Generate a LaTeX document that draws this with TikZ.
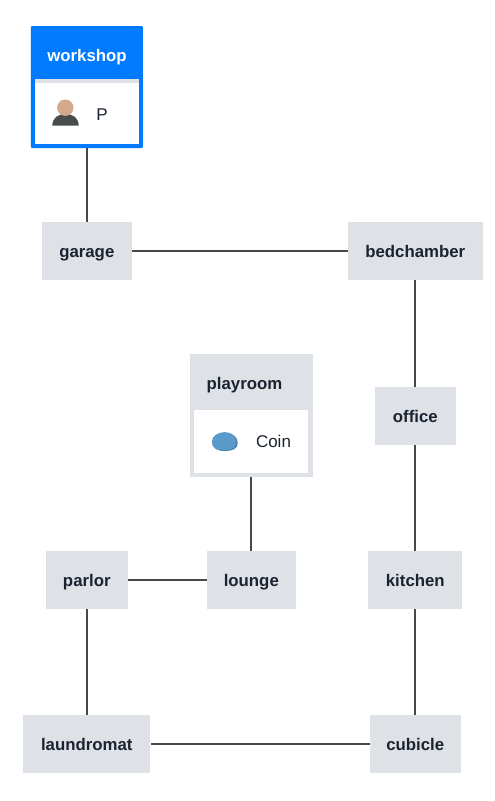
\documentclass[tikz,border=0pt]{standalone}
\usepackage{fontspec}
\setmainfont{Liberation Sans}
\definecolor{boxgrey}{HTML}{DEE1E6}
\definecolor{hero}{HTML}{007BFF}
\definecolor{ink}{HTML}{1C2330}
\definecolor{edgec}{HTML}{484848}
\definecolor{skin}{HTML}{D2A98A}
\definecolor{torso}{HTML}{484C4C}
\definecolor{coin}{HTML}{5B9BCB}
\definecolor{coindark}{HTML}{4A86B4}
\tikzset{
  x=1pt,y=-1pt,
  boldtext/.style={inner sep=0pt,text height=13pt,text depth=1pt,font=\fontsize{16.8}{18}\bfseries\selectfont},
  room/.style={boldtext,fill=boxgrey,draw=none,text=ink},
  link/.style={draw=edgec,line width=1.7pt},
  lbl/.style={inner sep=0pt,text height=13pt,text depth=1pt,font=\fontsize{17}{18}\selectfont,text=ink},
}
\begin{document}
\begin{tikzpicture}
\useasboundingbox (0,0) rectangle (495,801);
\fill[white] (0,0) rectangle (495,801);
% plain rooms
\node[room,minimum width=90,minimum height=58] (garage) at (86.8,251) {garage};
\node[room,minimum width=135,minimum height=58] (bedchamber) at (415.3,251) {bedchamber};
\node[room,minimum width=81,minimum height=58] (office) at (415.3,416) {office};
\node[room,minimum width=82,minimum height=58] (parlor) at (86.8,580) {parlor};
\node[room,minimum width=89,minimum height=58] (lounge) at (251.3,580) {lounge};
\node[room,minimum width=94,minimum height=58] (kitchen) at (415.3,580) {kitchen};
\node[room,minimum width=127,minimum height=58] (laundromat) at (86.8,744) {laundromat};
\node[room,minimum width=91,minimum height=58] (cubicle) at (415.3,744) {cubicle};
% workshop
\node[fill=hero,inner sep=0pt,rounded corners=1pt,minimum width=112,minimum height=122] (workshop) at (86.8,87) {};
\path[fill=boxgrey] (35,78.7) rectangle (139,82.7);
\path[fill=white] (35,82.7) rectangle (139,144);
\node[boldtext,text=white] (workshoplabel) at (87,55.7) {workshop};
\fill[torso] (52.3,125.7) .. controls (52.3,118) and (58,114) .. (65.5,114) .. controls (73,114) and (78.7,118) .. (78.7,125.7) -- cycle;
\fill[skin] (65.3,107.7) circle (8.2);
\node[lbl] (plabel) at (102,114) {P};
% playroom
\node[fill=boxgrey,inner sep=0pt,minimum width=123,minimum height=123] (playroom) at (251.3,415.5) {};
\path[fill=white] (194,410) rectangle (308,473);
\node[room,fill=none] (playroomlabel) at (244.5,383.3) {playroom};
\fill[coindark] (212,442) .. controls (212,436) and (218,432.3) .. (225,432.3) .. controls (232,432.3) and (237.8,437) .. (237.8,443) .. controls (237.8,449) and (232,451) .. (225,451) .. controls (217,451) and (212,448) .. (212,442) -- cycle;
\fill[coin] (212,442) .. controls (212,436) and (218,432.3) .. (225,432.3) .. controls (231,432.3) and (236,437) .. (236,442.5) .. controls (236,447.5) and (231,449.8) .. (225,449.8) .. controls (217,449.8) and (212,447.5) .. (212,442) -- cycle;
\node[lbl] (coinlabel) at (273.5,441.3) {Coin};
% connectors
\draw[link] (workshop) -- (garage);
\draw[link] (garage) -- (bedchamber);
\draw[link] (bedchamber) -- (office);
\draw[link] (office) -- (kitchen);
\draw[link] (kitchen) -- (cubicle);
\draw[link] (cubicle) -- (laundromat);
\draw[link] (laundromat) -- (parlor);
\draw[link] (parlor) -- (lounge);
\draw[link] (lounge) -- (playroom);
\end{tikzpicture}
\end{document}
